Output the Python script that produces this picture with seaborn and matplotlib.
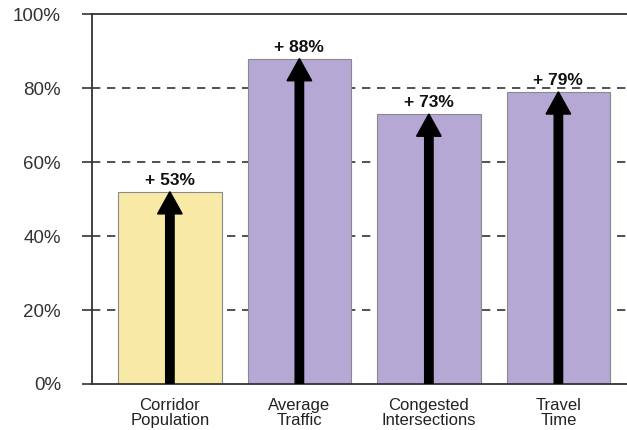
import seaborn as sns
import matplotlib.pyplot as plt
import pandas as pd

categories = ["Corridor\nPopulation", "Average\nTraffic", "Congested\nIntersections", "Travel\nTime"]
heights = [52, 88, 73, 79]
labels = ["+ 53%", "+ 88%", "+ 73%", "+ 79%"]
colors = ["#F8E9A6", "#B5A8D4", "#B5A8D4", "#B5A8D4"]
yticks = [0, 20, 40, 60, 80, 100]

sns.set_style("white")
plt.rcParams['font.family'] = ['Liberation Sans', 'DejaVu Sans']

df = pd.DataFrame({"cat": categories, "val": heights})

fig = plt.figure(figsize=(6.27, 4.30), dpi=100)
ax = fig.add_axes([0.147, 0.107, 0.853, 0.860])

sns.barplot(data=df, x="cat", y="val", hue="cat", palette=colors, legend=False,
            saturation=1, width=0.8, edgecolor="#8a8a8a", linewidth=0.8, ax=ax, zorder=2)

# dashed gridlines
for t in yticks[1:-1]:
    ax.axhline(t, color="#333333", lw=1.2, ls=(0, (5, 4)), zorder=1)

# arrows + labels
for i, (h, lab) in enumerate(zip(heights, labels)):
    ax.arrow(i, 0, 0, h, width=0.065, head_width=0.19, head_length=6.0,
             length_includes_head=True, color="black", zorder=3)
    ax.text(i, h + 1.0, lab, ha="center", va="bottom", fontsize=12.5,
            fontweight="bold", color="#111111")

ax.set_ylim(0, 100)
ax.set_xlim(-0.6, 3.53)
ax.set_yticks(yticks)
ax.set_yticklabels([f"{t}%" for t in yticks])
ax.set_xlabel("")
ax.set_ylabel("")

ax.tick_params(axis="y", length=7.5, width=1.2, color="#333333", labelsize=13.5,
               labelcolor="#333333", pad=15, left=True)
ax.tick_params(axis="x", length=0, labelsize=12, labelcolor="#222222", pad=10)
for lbl in ax.get_xticklabels():
    lbl.set_linespacing(1.0)

for s in ["left", "top", "bottom"]:
    ax.spines[s].set_visible(True)
    ax.spines[s].set_color("#333333")
    ax.spines[s].set_linewidth(1.3)
ax.spines["right"].set_visible(False)

fig.savefig("out.png", dpi=100)
